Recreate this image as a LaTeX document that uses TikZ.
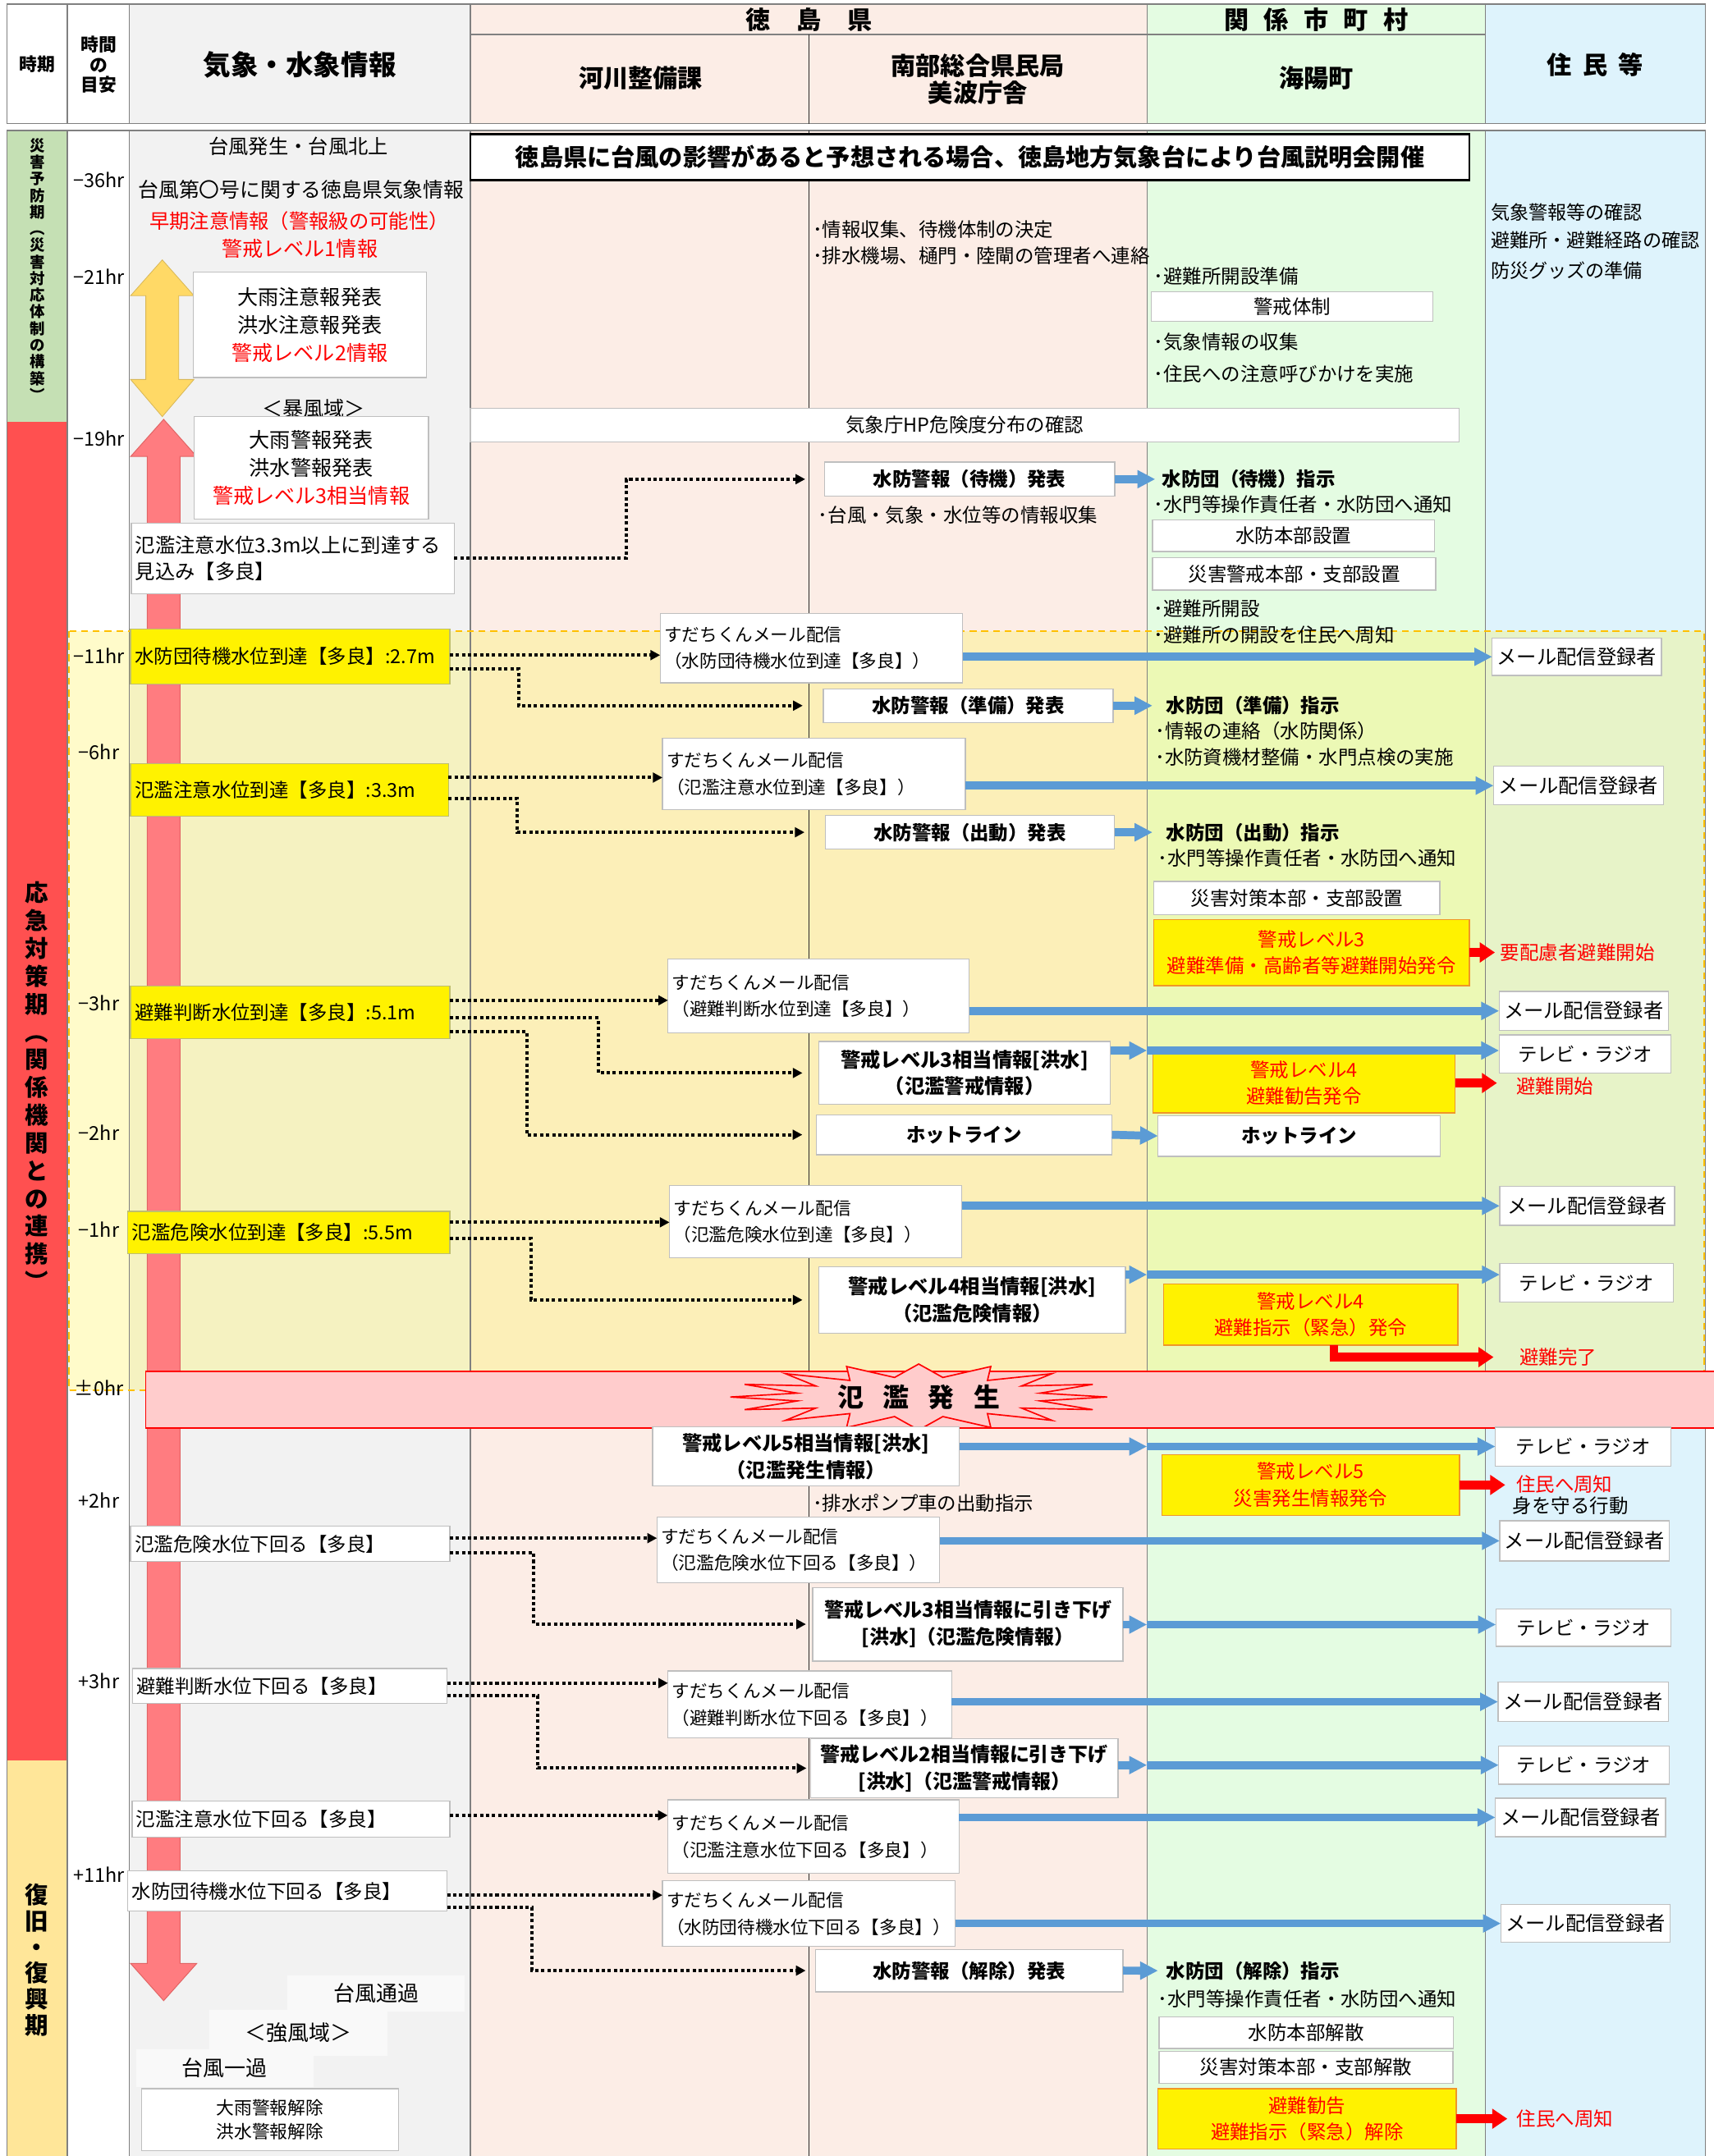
\documentclass[tikz,border=0pt]{standalone}
\usepackage{fontspec}
\setmainfont{Noto Sans CJK JP}
\usetikzlibrary{arrows.meta}
\definecolor{cgray}{RGB}{242,242,242}
\definecolor{cpink}{RGB}{252,237,230}
\definecolor{cgreen}{RGB}{228,252,226}
\definecolor{cblue}{RGB}{222,243,252}
\definecolor{pgreen}{RGB}{197,224,180}
\definecolor{pred}{RGB}{255,80,80}
\definecolor{pyel}{RGB}{255,230,153}
\definecolor{arrpink}{RGB}{255,124,128}
\definecolor{arrpinkb}{RGB}{225,100,100}
\definecolor{arryel}{RGB}{255,217,102}
\definecolor{bluear}{RGB}{91,155,213}
\definecolor{bandpink}{RGB}{255,204,204}
\definecolor{linegray}{RGB}{128,128,128}
\definecolor{boxgray}{RGB}{191,191,191}
\definecolor{dashor}{RGB}{255,192,0}
\definecolor{ovl}{RGB}{255,245,80}
\definecolor{ybord}{RGB}{190,190,110}
\definecolor{rybord}{RGB}{240,150,40}
\definecolor{softw}{RGB}{249,249,249}
\newcommand{\fsz}[2]{\fontsize{#1}{#2}\selectfont}
\newcommand{\mybox}[7]{%
  \pgfmathsetmacro{\mywd}{(#4)-(#2)}%
  \pgfmathsetmacro{\myht}{(#5)-(#3)}%
  \pgfmathsetmacro{\mycx}{((#2)+(#4))/2}%
  \pgfmathsetmacro{\mycy}{((#3)+(#5))/2}%
  \node[#6, minimum width=\mywd pt, minimum height=\myht pt] (#1) at (\mycx,\mycy) {#7};}
\newcommand{\myboxl}[7]{%
  \pgfmathsetmacro{\mywd}{(#4)-(#2)}%
  \pgfmathsetmacro{\myht}{(#5)-(#3)}%
  \pgfmathsetmacro{\mytw}{(#4)-(#2)-6}%
  \pgfmathsetmacro{\mycx}{((#2)+(#4))/2}%
  \pgfmathsetmacro{\mycy}{((#3)+(#5))/2}%
  \node[#6, minimum width=\mywd pt, minimum height=\myht pt, text width=\mytw pt, align=left, inner xsep=3pt] (#1) at (\mycx,\mycy) {#7};}
\tikzset{
  every node/.style={inner sep=0pt, outer sep=0pt},
  wb/.style={draw=boxgray, fill=white, line width=0.8pt, align=center, font=\fsz{14}{17}},
  bb/.style={wb, font=\bfseries\fsz{14}{19.5}},
  mb/.style={wb, font=\fsz{14.5}{17}},
  mbb/.style={wb, font=\fsz{14}{17}},
  yb/.style={draw=ybord, fill=yellow, line width=0.8pt, font=\fsz{14}{17}},
  ryb/.style={draw=rybord, fill=yellow, line width=0.8pt, align=center, text=red, font=\fsz{14}{19.5}},
  sb/.style={wb, font=\fsz{12.9}{19.5}},
  lb/.style={wb, font=\fsz{14}{17}},
  soft/.style={fill=softw, font=\fsz{15.5}{17}},
  txt/.style={anchor=west, font=\fsz{14}{17}},
  tml/.style={font=\fsz{14}{17}},
  barrow/.style={draw=bluear, line width=5.8pt, -{Triangle[length=13pt,width=12.5pt]}},
  rarrow/.style={draw=red, line width=6.3pt, -{Triangle[length=11pt,width=14pt]}},
  darrow/.style={draw=black, line width=2.4pt, dash pattern=on 2.4pt off 2pt, -{Triangle[length=7pt,width=7pt]}},
}
\begin{document}
\begin{tikzpicture}[x=1pt,y=-1pt]
\useasboundingbox (0,0) rectangle (1246,1568);
\fill[white] (0,0) rectangle (1246,1568);
% header backgrounds
\fill[white] (5,3) rectangle (94,90);
\fill[cgray] (94,3) rectangle (342,90);
\fill[cpink] (342,3) rectangle (834,90);
\fill[cgreen] (834,3) rectangle (1080,90);
\fill[cblue] (1080,3) rectangle (1240,90);
% content backgrounds
\fill[pgreen] (5,95) rectangle (49,307);
\fill[pred] (5,307) rectangle (49,1280);
\fill[pyel] (5,1280) rectangle (49,1568);
\fill[white] (49,95) rectangle (94,1568);
\fill[cgray] (94,95) rectangle (342,1568);
\fill[cpink] (342,95) rectangle (834,1568);
\fill[cgreen] (834,95) rectangle (1080,1568);
\fill[cblue] (1080,95) rectangle (1240,1568);
% overlay
\fill[ovl, fill opacity=0.3] (50,459) rectangle (1239,1011);
% grid
\draw[linegray, line width=0.8pt] (5,3) -- (1240,3) (5,90) -- (1240,90) (5,95) -- (1240,95) (342,25) -- (1080,25);
\foreach \xx in {5,49,94,342,834,1080,1240} \draw[linegray, line width=0.8pt] (\xx,3) -- (\xx,90) (\xx,95) -- (\xx,1568);
\draw[black!85, line width=0.6pt] (588,25) -- (588,90) (588,95) -- (588,1568);
\draw[dashor, line width=1.3pt, dash pattern=on 5pt off 3.5pt] (50,459) rectangle (1239,1011);

% header texts
\node[font=\bfseries\fsz{13}{15}] (hd1) at (27,47) {時期};
\node[font=\bfseries\fsz{13}{14.5}, align=center] (hd2) at (72,47) {時間\\の\\目安};
\node[font=\bfseries\fsz{20}{24}] (hd3) at (218,47) {気象・水象情報};
\node[font=\bfseries\fsz{18}{20}] (hd4) at (588,14.5) {徳\hspace{19pt}島\hspace{19pt}県};
\node[font=\bfseries\fsz{18}{20}] (hd5) at (466,57) {河川整備課};
\node[font=\bfseries\fsz{18}{19.6}, align=center] (hd6) at (711,57.5) {南部総合県民局\\美波庁舎};
\node[font=\bfseries\fsz{18}{20}] (hd7) at (957,14.5) {関\hspace{11pt}係\hspace{11pt}市\hspace{11pt}町\hspace{11pt}村};
\node[font=\bfseries\fsz{18}{20}] (hd8) at (957,57) {海陽町};
\node[font=\bfseries\fsz{18}{20}] (hd9) at (1160,47) {住\hspace{8pt}民\hspace{8pt}等};

% period column texts
\node[font=\bfseries\fsz{11}{12.1}, align=center] (pv1) at (27,196) {災\\害\\予\\防\\期\\︵\\災\\害\\対\\応\\体\\制\\の\\構\\築\\︶};
\node[font=\bfseries\fsz{17}{20.2}, align=center] (pv2) at (27,790) {応\\急\\対\\策\\期\\︵\\関\\係\\機\\関\\と\\の\\連\\携\\︶};
\node[font=\bfseries\fsz{17}{19}, align=center] (pv3) at (27,1425.5) {復\\旧\\・\\復\\興\\期};

% time labels
\node[tml] (tm1) at (72,131) {−36hr};
\node[tml] (tm2) at (72,201) {−21hr};
\node[tml] (tm3) at (72,319) {−19hr};
\node[tml] (tm4) at (72,477) {−11hr};
\node[tml] (tm5) at (72,547) {−6hr};
\node[tml] (tm6) at (72,729.5) {−3hr};
\node[tml] (tm7) at (72,824) {−2hr};
\node[tml] (tm8) at (72,894) {−1hr};
\node[tml] (tm9) at (72,1009.5) {±0hr};
\node[tml] (tm10) at (72,1091) {+2hr};
\node[tml] (tm11) at (72,1222.5) {+3hr};
\node[tml] (tm12) at (72,1363.5) {+11hr};

% big arrows
\filldraw[fill=arryel, draw=arryel!85!black, line width=0.5pt] (118,189) -- (141,215) -- (130,215) -- (130,276) -- (141,276) -- (118,303) -- (95,276) -- (106,276) -- (106,215) -- (95,215) -- cycle;
\filldraw[fill=arrpink, draw=arrpinkb, line width=0.6pt] (119,305) -- (143,332) -- (131,332) -- (131,1428) -- (143,1428) -- (119,1455) -- (95,1428) -- (107,1428) -- (107,332) -- (95,332) -- cycle;

% flood band
\draw[red, fill=bandpink, line width=1pt] (106,997.5) rectangle (1252,1038.6);
\draw[red, fill=bandpink, line width=1pt] (805,1016) \foreach \i in {1,...,31} { -- ({668+ifthenelse(mod(\i,2)==0,137,90)*cos(\i*11.25)},{1016+ifthenelse(mod(\i,2)==0,24,14.5)*sin(\i*11.25)}) } -- cycle;
\node[font=\bfseries\fsz{19}{20}] (flood) at (668,1016) {氾\hspace{14pt}濫\hspace{14pt}発\hspace{14pt}生};

% weather column
\node[font=\fsz{14.5}{17}] (k1) at (217,106.5) {台風発生・台風北上};
\node[font=\fsz{14.8}{17}] (k2) at (219,138) {台風第〇号に関する徳島県気象情報};
\node[font=\fsz{14.5}{17}, text=red] (k3) at (217.5,160.5) {早期注意情報（警報級の可能性）};
\node[font=\fsz{15}{17}, text=red] (k4) at (218,181) {警戒レベル1情報};
\mybox{q1}{140.5}{198}{310}{274.5}{wb, font=\fsz{15}{20.5}}{大雨注意報発表\\洪水注意報発表\\\textcolor{red}{警戒レベル2情報}}
\node[font=\fsz{15}{17}] (k5) at (228,297) {＜暴風域＞};
\mybox{q2}{141}{303}{311.6}{377.5}{wb, font=\fsz{15}{20.5}}{大雨警報発表\\洪水警報発表\\\textcolor{red}{警戒レベル3相当情報}}
\myboxl{q3}{95.4}{380.4}{330.3}{431.8}{wb, font=\fsz{14.5}{19}}{氾濫注意水位3.3m以上に到達する\\見込み【多良】}
\mybox{sf1}{209}{1436.5}{338}{1463}{soft}{台風通過}
\mybox{sf2}{152}{1462}{282}{1495}{soft}{＜強風域＞}
\mybox{sf3}{99}{1490.5}{228}{1517.7}{soft}{台風一過}
\mybox{kj}{103}{1519}{289.6}{1564}{wb, font=\fsz{13}{17}}{大雨警報解除\\洪水警報解除}

% top box
\mybox{tb}{342}{97.5}{1068.5}{131}{draw=black, fill=white, line width=1.5pt, font=\bfseries\fsz{17.4}{20}}{徳島県に台風の影響があると予想される場合、徳島地方気象台により台風説明会開催}

% pre-band texts
\node[txt] (n1) at (591,167) {･情報収集、待機体制の決定};
\node[txt] (n2) at (591,186) {･排水機場、樋門・陸閘の管理者へ連絡};
\node[txt] (g1) at (839,201) {･避難所開設準備};
\mybox{kt}{837}{212}{1042}{233.5}{wb}{警戒体制}
\node[txt] (g2) at (839,248.5) {･気象情報の収集};
\node[txt] (g3) at (839,272) {･住民への注意呼びかけを実施};
\node[txt, font=\fsz{13.8}{17}] (jm1) at (1084,154.5) {気象警報等の確認};
\node[txt, font=\fsz{13.8}{17}] (jm2) at (1084,174.5) {避難所・避難経路の確認};
\node[txt, font=\fsz{13.8}{17}] (jm3) at (1084,197) {防災グッズの準備};
\mybox{hp}{342}{297}{1061}{321.5}{wb}{気象庁HP危険度分布の確認}

\mybox{b0}{599.5}{336}{810.5}{361}{bb}{水防警報（待機）発表}
\node[txt, font=\bfseries\fsz{14}{17}] (b0t) at (845,348.5) {水防団（待機）指示};
\draw[barrow] (b0.east) -- ([xshift=-5pt]b0t.west);
\node[txt] (b0a) at (839,367) {･水門等操作責任者・水防団へ通知};
\node[txt] (n3) at (595,374.5) {･台風・気象・水位等の情報収集};
\mybox{hb}{838}{378}{1043}{401}{wb}{水防本部設置}
\mybox{kb}{838}{405.4}{1044}{429.2}{wb}{災害警戒本部・支部設置}
\node[txt] (g4) at (839,442.5) {･避難所開設};
\node[txt] (g5) at (839,462) {･避難所の開設を住民へ周知};
\draw[darrow] (q3.east) -- ++(125,0) |- ([xshift=-14pt]b0.west);

% row -11hr
\myboxl{y1}{95}{457.6}{327}{497.3}{yb}{水防団待機水位到達【多良】:2.7m}
\myboxl{s1}{480}{446}{700}{496.5}{sb}{すだちくんメール配信\\（水防団待機水位到達【多良】）}
\mybox{m1}{1085}{464}{1208}{491.3}{mb}{メール配信登録者}
\mybox{pb}{598.7}{501}{809.4}{525.4}{bb}{水防警報（準備）発表}
\node[txt, font=\bfseries\fsz{14}{17}] (pbt) at (848,513.2) {水防団（準備）指示};
\node[txt] (pb1) at (840,531.5) {･情報の連絡（水防関係）};
\node[txt] (pb2) at (840,550.5) {･水防資機材整備・水門点検の実施};
\coordinate (d1a) at ([yshift=1pt]y1.east);
\draw[darrow] (d1a) -- (d1a -| s1.west);
\coordinate (d1b) at ([yshift=-9pt]y1.east);
\draw[darrow] (d1b) -- ++(50,0) |- ([xshift=-15pt]pb.west);
\draw[barrow] (s1.east |- m1.west) -- (m1.west);
\draw[barrow] (pb.east) -- ([xshift=-10pt]pbt.west);

% row -6hr
\myboxl{y2}{95}{555.3}{326}{593.7}{yb}{氾濫注意水位到達【多良】:3.3m}
\myboxl{s2}{481.7}{537}{702}{588.7}{sb}{すだちくんメール配信\\（氾濫注意水位到達【多良】）}
\mybox{m2}{1086}{557.3}{1209.5}{585.4}{mb}{メール配信登録者}
\mybox{ps}{600}{593}{810.4}{617.6}{bb}{水防警報（出動）発表}
\node[txt, font=\bfseries\fsz{14}{17}] (pst) at (848,605.3) {水防団（出動）指示};
\node[txt] (ps1) at (842,624) {･水門等操作責任者・水防団へ通知};
\mybox{tb2}{839}{641}{1047}{665.3}{wb}{災害対策本部・支部設置}
\mybox{r3}{839}{668.6}{1068.4}{716.8}{ryb}{警戒レベル3\\避難準備・高齢者等避難開始発令}
\node[txt, text=red] (tr3) at (1091,693) {要配慮者避難開始};
\coordinate (d2a) at ([yshift=9pt]y2.east);
\draw[darrow] (d2a) -- (d2a -| s2.west);
\coordinate (d2b) at ([yshift=-6pt]y2.east);
\draw[darrow] (d2b) -- ++(50,0) |- ([xshift=-15pt]ps.west);
\draw[barrow] (s2.east |- m2.west) -- (m2.west);
\draw[barrow] (ps.east) -- ([xshift=-10pt]pst.west);
\coordinate (e3) at ([xshift=-4pt]tr3.west);
\draw[rarrow] (r3.east) -- (r3.east -| e3);

% row -3hr
\myboxl{y3}{95}{717}{327}{755.2}{yb}{避難判断水位到達【多良】:5.1m}
\myboxl{s3}{485.7}{697.5}{704.7}{751}{sb}{すだちくんメール配信\\（避難判断水位到達【多良】）}
\mybox{m3}{1090}{721}{1213}{749.4}{mb}{メール配信登録者}
\mybox{l3}{595.5}{757.5}{807.3}{803.2}{bb, font=\bfseries\fsz{14.5}{19.5}}{警戒レベル3相当情報[洪水]\\（氾濫警戒情報）}
\mybox{tv1}{1090}{752.7}{1215}{780.5}{mbb}{テレビ・ラジオ}
\mybox{r4}{838.3}{766}{1058}{809.3}{ryb}{警戒レベル4\\避難勧告発令}
\node[txt, text=red] (tr4) at (1102.5,790) {避難開始};
\mybox{hl1}{593.4}{810.8}{808.5}{839.7}{bb}{ホットライン}
\mybox{hl2}{842}{811.3}{1047.4}{841}{bb}{ホットライン}
\coordinate (d3a) at ([yshift=8.6pt]y3.east);
\draw[darrow] (d3a) -- (d3a -| s3.west);
\coordinate (d3b) at ([yshift=-4.3pt]y3.east);
\draw[darrow] (d3b) -- ++(108,0) |- ([xshift=-12pt]l3.west);
\coordinate (d3c) at ([yshift=-14pt]y3.east);
\draw[darrow] (d3c) -- ++(56,0) |- ([xshift=-10pt]hl1.west);
\draw[barrow] (s3.east |- m3.west) -- (m3.west);
\coordinate (j3) at (834,764);
\draw[barrow] (l3.east |- j3) -- (j3);
\draw[barrow] (j3) -- (j3 -| tv1.west);
\coordinate (e4) at ([xshift=-14pt]tr4.west);
\draw[rarrow] (r4.east) -- (r4.east -| e4);
\draw[barrow] (hl1.east) -- (hl2.west);

% row -1hr
\myboxl{y4}{93}{881}{327}{911.7}{yb}{氾濫危険水位到達【多良】:5.5m}
\myboxl{s4}{486.8}{862}{699.3}{914.7}{sb}{すだちくんメール配信\\（氾濫危険水位到達【多良】）}
\mybox{m4}{1090.5}{862.8}{1217.6}{891.2}{mb}{メール配信登録者}
\mybox{l4}{595.5}{921.3}{818.4}{969.5}{bb, font=\bfseries\fsz{14.5}{19.5}}{警戒レベル4相当情報[洪水]\\（氾濫危険情報）}
\mybox{tv2}{1090.5}{918.7}{1216.7}{947}{mbb}{テレビ・ラジオ}
\mybox{r5}{846}{933.8}{1060}{978.3}{ryb}{警戒レベル4\\避難指示（緊急）発令}
\node[txt, text=red] (tr5) at (1105,987) {避難完了};
\coordinate (d4a) at ([yshift=7.4pt]y4.east);
\draw[darrow] (d4a) -- (d4a -| s4.west);
\coordinate (d4b) at ([yshift=-4.6pt]y4.east);
\draw[darrow] (d4b) -- ++(59,0) |- ([xshift=-12pt]l4.west);
\draw[barrow] (s4.east |- m4.west) -- (m4.west);
\coordinate (j4) at (834,927);
\draw[barrow] (l4.east |- j4) -- (j4);
\draw[barrow] (j4) -- (j4 -| tv2.west);
\draw[rarrow] ([xshift=17pt]r5.south) |- ([xshift=-19pt]tr5.west);

% after flood
\mybox{l5}{474.6}{1037.8}{697.5}{1080.7}{bb, font=\bfseries\fsz{14.5}{20}}{警戒レベル5相当情報[洪水]\\（氾濫発生情報）}
\mybox{tv3}{1087.3}{1038}{1215}{1066.2}{mbb}{テレビ・ラジオ}
\mybox{r6}{844.7}{1057.9}{1061.2}{1102}{ryb}{警戒レベル5\\災害発生情報発令}
\node[txt, text=red] (tr6) at (1102.5,1079.5) {住民へ周知};
\node[txt] (tr6b) at (1100,1095) {身を守る行動};
\coordinate (j5) at (834,1052);
\draw[barrow] (l5.east |- j5) -- (j5);
\draw[barrow] (j5) -- (j5 -| tv3.west);
\coordinate (e6) at ([xshift=-8pt]tr6.west);
\draw[rarrow] (r6.east) -- (r6.east -| e6);
\node[txt] (n4) at (591,1093) {･排水ポンプ車の出動指示};

\myboxl{w1}{95}{1110}{327}{1135.7}{lb}{氾濫危険水位下回る【多良】}
\myboxl{s5}{477.7}{1103.3}{683.3}{1151}{sb}{すだちくんメール配信\\（氾濫危険水位下回る【多良】）}
\mybox{m5}{1090.5}{1106}{1213.6}{1135.2}{mb}{メール配信登録者}
\mybox{l6}{591}{1154.5}{816.6}{1208}{bb, font=\bfseries\fsz{14.3}{19.5}}{警戒レベル3相当情報に引き下げ\\{}[洪水]（氾濫危険情報）}
\mybox{tv4}{1087.7}{1170}{1215}{1197.4}{mbb}{テレビ・ラジオ}
\coordinate (d5a) at ([yshift=4.2pt]w1.east);
\draw[darrow] (d5a) -- (d5a -| s5.west);
\coordinate (d5b) at ([yshift=-6.5pt]w1.east);
\draw[darrow] (d5b) -- ++(61,0) |- ([xshift=-5pt]l6.west);
\draw[barrow] (s5.east |- m5.west) -- (m5.west);
\coordinate (j6) at (834,1181.5);
\draw[barrow] (l6.east |- j6) -- (j6);
\draw[barrow] (j6) -- (j6 -| tv4.west);

\myboxl{w2}{96.4}{1213.4}{325}{1238.7}{lb}{避難判断水位下回る【多良】}
\myboxl{s6}{485.7}{1215.2}{691.9}{1263.8}{sb}{すだちくんメール配信\\（避難判断水位下回る【多良】）}
\mybox{m6}{1089.2}{1223.3}{1213}{1252}{mb}{メール配信登録者}
\mybox{l7}{589.4}{1264.6}{813}{1307.3}{bb, font=\bfseries\fsz{14.3}{19.5}}{警戒レベル2相当情報に引き下げ\\{}[洪水]（氾濫警戒情報）}
\mybox{tv5}{1089.7}{1269.7}{1213.6}{1297.6}{mbb}{テレビ・ラジオ}
\coordinate (d6a) at ([yshift=2pt]w2.east);
\draw[darrow] (d6a) -- (d6a -| s6.west);
\coordinate (d6b) at ([yshift=-7pt]w2.east);
\draw[darrow] (d6b) -- ++(66,0) |- ([xshift=-3pt]l7.west);
\draw[barrow] (s6.east |- m6.west) -- (m6.west);
\coordinate (j7) at (834,1283.7);
\draw[barrow] (l7.east |- j7) -- (j7);
\draw[barrow] (j7) -- (j7 -| tv5.west);

\myboxl{w3}{96}{1309.7}{327}{1336}{lb}{氾濫注意水位下回る【多良】}
\myboxl{s7}{485.5}{1309}{697.3}{1362.3}{sb}{すだちくんメール配信\\（氾濫注意水位下回る【多良】）}
\mybox{m7}{1087.3}{1307.8}{1211}{1335.7}{mb}{メール配信登録者}
\coordinate (d7a) at ([yshift=2.6pt]w3.east);
\draw[darrow] (d7a) -- (d7a -| s7.west);
\draw[barrow] (s7.east |- m7.west) -- (m7.west);

\myboxl{w4}{93}{1360.5}{325}{1390}{lb}{水防団待機水位下回る【多良】}
\myboxl{s8}{481.7}{1367.9}{694.6}{1415.6}{sb}{すだちくんメール配信\\（水防団待機水位下回る【多良】）}
\mybox{m8}{1091.3}{1385.1}{1214.4}{1412.6}{mb}{メール配信登録者}
\mybox{l8}{592.8}{1417.7}{816.6}{1448.6}{bb}{水防警報（解除）発表}
\node[txt, font=\bfseries\fsz{14}{17}] (l8t) at (848,1433.2) {水防団（解除）指示};
\node[txt] (l8a) at (842,1454) {･水門等操作責任者・水防団へ通知};
\mybox{hk1}{842.8}{1466.9}{1056.7}{1489.7}{wb}{水防本部解散}
\mybox{hk2}{842.8}{1491.7}{1056.4}{1515.3}{wb}{災害対策本部・支部解散}
\mybox{r7}{842}{1519}{1058.8}{1562.8}{ryb}{避難勧告\\避難指示（緊急）解除}
\node[txt, text=red] (tr7) at (1103,1541) {住民へ周知};
\coordinate (d8a) at ([yshift=-3pt]w4.east);
\draw[darrow] (d8a) -- (d8a -| s8.west);
\coordinate (d8b) at ([yshift=-12pt]w4.east);
\draw[darrow] (d8b) -- ++(62,0) |- ([xshift=-7pt]l8.west);
\draw[barrow] (s8.east |- m8.west) -- (m8.west);
\draw[barrow] (l8.east) -- ([xshift=-6pt]l8t.west);
\coordinate (e7) at ([xshift=-7pt]tr7.west);
\draw[rarrow] (r7.east) -- (r7.east -| e7);
\end{tikzpicture}
\end{document}
